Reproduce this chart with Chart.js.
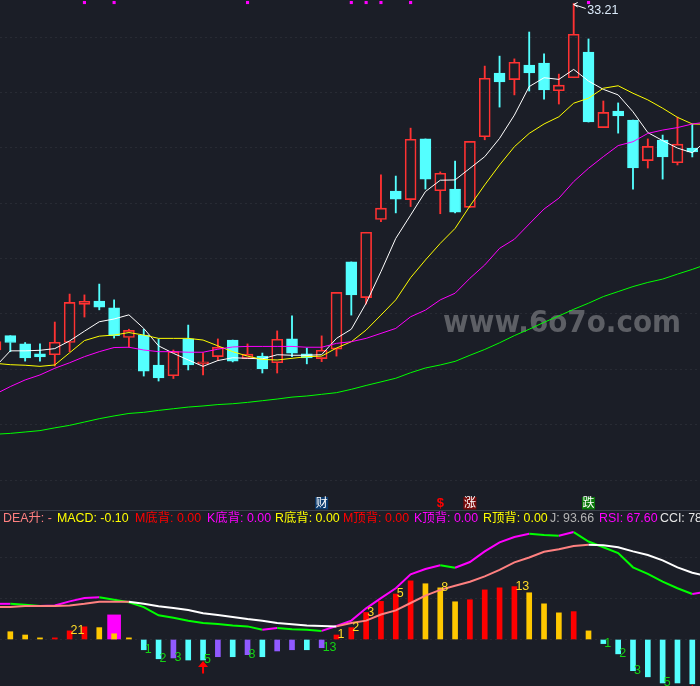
<!DOCTYPE html>
<html>
<head>
<meta charset="utf-8">
<title>K线 MACD</title>
<script src="https://cdn.jsdelivr.net/npm/chart.js@4"></script>
<style>
  html, body { margin: 0; padding: 0; background: #1b1e27; }
  #wrap { position: relative; width: 700px; height: 686px; overflow: hidden; background: #1b1e27; }
  canvas { position: absolute; left: 0; display: block; }
  #priceChart { top: 0; }
  #macdChart { top: 511px; }
  #line { position: absolute; left: 0; top: 510px; width: 700px; height: 1px; background: #3c404b; }
  #head span {
    position: absolute; top: 510px; white-space: nowrap; line-height: 16px;
    font: 12.4px/16px "Liberation Sans", "Noto Sans CJK SC", sans-serif;
  }
</style>
</head>
<body>
<div id="wrap">
  <canvas id="priceChart" width="700" height="510"></canvas>
  <canvas id="macdChart" width="700" height="175"></canvas>
  <div id="line"></div>
  <div id="head">
    <span style="left:3px;color:#ff8080">DEA升: -</span>
    <span style="left:57px;color:#ffff00">MACD: -0.10</span>
    <span style="left:135px;color:#ff0000">M底背: 0.00</span>
    <span style="left:207px;color:#ff00ff">K底背: 0.00</span>
    <span style="left:275px;color:#ffff00">R底背: 0.00</span>
    <span style="left:343px;color:#ff0000">M顶背: 0.00</span>
    <span style="left:414px;color:#ff00ff">K顶背: 0.00</span>
    <span style="left:483px;color:#ffff00">R顶背: 0.00</span>
    <span style="left:550px;color:#b4b4b4">J: 93.66</span>
    <span style="left:599px;color:#ff00ff">RSI: 67.60</span>
    <span style="left:660px;color:#e6e6e6">CCI: 78.43</span>
  </div>
</div>

<script>
// CANDLES
let opens = [20.70,21.22,20.92,20.56,20.53,20.97,22.35,22.47,22.22,21.15,21.24,20.16,19.77,21.10,20.20,20.46,21.06,20.39,20.48,20.24,21.10,20.56,20.39,20.73,23.88,22.59,25.41,26.44,26.13,28.32,26.45,26.51,25.85,28.40,30.70,30.46,30.99,31.06,30.06,30.53,31.46,28.73,29.33,29.00,27.54,28.28,27.46,27.99,28.10];
let closes = [21.00,20.97,20.41,20.45,20.98,22.42,22.46,22.25,21.22,21.41,19.94,19.69,20.64,20.16,20.27,20.80,20.30,20.55,20.02,21.09,20.59,20.41,20.69,22.78,22.69,24.95,25.82,26.15,28.31,26.87,27.08,25.68,28.23,30.51,30.38,31.09,30.70,30.09,30.26,32.10,28.93,29.28,29.15,27.27,28.05,27.67,28.13,27.85,28.40];
let highs = [21.00,21.22,20.97,20.92,21.71,22.72,22.69,23.08,22.51,21.45,21.45,21.10,20.70,21.60,20.60,21.10,21.06,20.92,20.59,21.39,21.93,20.77,21.21,22.78,23.88,24.95,27.02,26.98,28.71,28.32,27.13,27.52,28.23,30.95,31.31,31.21,32.18,31.39,30.66,33.21,31.93,29.69,29.62,29.00,28.32,28.46,29.11,28.86,28.60];
let lows = [20.70,20.64,20.30,20.30,20.12,20.64,21.89,22.15,21.13,20.80,19.76,19.58,19.67,19.98,19.80,20.32,20.27,20.39,19.87,19.87,20.46,20.20,20.28,20.48,21.96,22.36,25.33,25.65,25.88,26.51,25.62,25.65,25.85,28.29,29.47,29.91,30.05,29.76,29.58,30.53,28.93,28.73,28.53,26.51,27.27,26.87,27.38,27.67,27.90];

// MOVING AVERAGES
let ma5 = [20.10,20.67,20.67,20.69,20.75,21.03,21.38,21.72,21.82,21.97,21.48,20.85,20.58,20.34,20.11,20.32,20.42,20.40,20.38,20.53,20.51,20.51,20.53,21.12,21.45,22.39,23.53,24.73,25.57,26.42,26.83,26.84,27.26,27.68,28.34,29.18,30.21,30.53,30.47,30.83,30.41,30.11,29.91,29.30,28.55,28.26,27.99,27.82,28.28];
let ma10 = [20.22,20.17,20.15,20.11,20.16,20.60,21.04,21.20,21.24,21.33,21.24,21.12,21.12,21.12,21.06,20.85,20.64,20.48,20.36,20.34,20.40,20.46,20.48,20.77,21.00,21.42,21.96,22.51,23.31,23.95,24.55,25.09,25.90,26.66,27.38,28.04,28.52,28.86,29.12,29.61,29.79,30.15,30.24,29.97,29.73,29.43,29.10,28.86,28.85];
let ma20 = [19.11,19.38,19.62,19.80,20.04,20.24,20.46,20.64,20.79,20.80,20.70,20.64,20.64,20.62,20.62,20.73,20.81,20.83,20.83,20.83,20.83,20.80,20.80,20.94,21.00,21.12,21.30,21.48,21.90,22.14,22.51,22.75,23.29,23.77,24.37,24.70,25.25,25.79,26.18,26.78,27.26,27.68,28.08,28.22,28.52,28.64,28.73,28.86,28.93];
let ma60 = [17.66,17.69,17.74,17.79,17.89,17.98,18.10,18.22,18.32,18.41,18.45,18.52,18.58,18.64,18.68,18.73,18.76,18.81,18.87,18.93,19.00,19.04,19.10,19.16,19.28,19.42,19.55,19.68,19.88,20.05,20.16,20.29,20.51,20.72,20.96,21.22,21.45,21.70,21.93,22.17,22.39,22.63,22.81,22.99,23.14,23.26,23.44,23.61,23.80];

// MARKS ON THE PRICE PANEL
let priceTicks = [16,18,20,22,24,26,28,30,32];
let topMarks = [6,8,17,24,25,26,28,40];
let topMarkLevel = 33.245;
let highLabelIdx = 39;
let eventIdx = [22,30,32,40];
let eventText = ["财","$","涨","跌"];
let eventKind = ["blue","plain","red","green"];

// MACD PANEL
let macdBars = [0.020,0.019,0.011,0.004,0.004,0.021,0.031,0.029,0.014,0.004,-0.025,-0.047,-0.045,-0.050,-0.050,-0.042,-0.042,-0.037,-0.042,-0.028,-0.025,-0.025,-0.020,0.011,0.029,0.066,0.093,0.111,0.143,0.136,0.126,0.092,0.097,0.121,0.126,0.129,0.114,0.087,0.065,0.068,0.021,-0.010,-0.035,-0.076,-0.091,-0.106,-0.106,-0.108,-0.100];
let barKind = "oooorrrooo"
  .concat("ccpccpcpcppcp")
  .concat("rrrrrrooorrrrooorocccccccc")
  .split("");
let dif = [0.087,0.087,0.085,0.082,0.083,0.093,0.101,0.103,0.097,0.091,0.079,0.059,0.053,0.046,0.040,0.038,0.034,0.032,0.024,0.028,0.025,0.024,0.021,0.033,0.046,0.076,0.101,0.125,0.159,0.172,0.181,0.175,0.189,0.215,0.237,0.250,0.258,0.255,0.253,0.262,0.239,0.225,0.211,0.176,0.160,0.141,0.125,0.111,0.117];
let dea = [0.079,0.079,0.082,0.082,0.082,0.083,0.087,0.092,0.092,0.092,0.087,0.081,0.077,0.072,0.064,0.060,0.055,0.050,0.046,0.040,0.037,0.034,0.033,0.032,0.040,0.046,0.061,0.071,0.089,0.107,0.121,0.131,0.141,0.154,0.170,0.188,0.200,0.214,0.220,0.228,0.231,0.230,0.225,0.215,0.206,0.193,0.176,0.163,0.154];
let wideBarIdx = [8];
let wideBarValue = [0.060];
let macdTicks = [0,0.1,0.2];
let countIdx = [5,10,11,12,14,17,22,23,24,25,27,30,35,41,42,43,45];
let countText = ["21","1","2","3","5","8","13","1","2","3","5","8","13","1","2","3","5"];
let arrowIdx = [14,47];

const BG_FONT = '"Liberation Sans", "Noto Sans CJK SC", sans-serif';
const RED = "#ff3232";
const CYAN = "#54ffff";
const GRID = "#282b34";
const barColors = { o: "#ffc800", r: "#ff0000", c: "#54ffff", p: "#9059ff" };
const eventColors = { blue: "#0a3a6e", red: "#780a0a", green: "#0a780a" };

function pts(list) {
  return list.map((v, i) => ({ x: i, y: v }));
}

function isUp(i) {
  return closes[i] >= opens[i];
}

// wicks stop at the body so the hollow candles stay empty
function wickData(part) {
  return opens.map((o, i) => {
    let top = Math.max(o, closes[i]);
    let bot = Math.min(o, closes[i]);
    return { x: i, y: part === "up" ? [top, highs[i]] : [lows[i], bot] };
  });
}

function lineSet(list, color) {
  return { type: "line", data: pts(list), borderColor: color, borderWidth: 1, pointRadius: 0, tension: 0, order: 0 };
}

function wickSet(part) {
  return {
    data: wickData(part), grouped: false, barThickness: 1.2, order: 2,
    backgroundColor: opens.map((o, i) => isUp(i) ? RED : CYAN)
  };
}

// PRICE PANEL EXTRAS
const priceExtras = {
  id: "priceExtras",
  beforeDatasetsDraw(chart) {
    let ctx = chart.ctx;
    ctx.save();
    ctx.fillStyle = "#5d5f65";
    ctx.font = 'bold 31px "DejaVu Sans"';
    ctx.textBaseline = "alphabetic";
    ctx.fillText("www.6o7o.com", 443, 332, 238);
    ctx.restore();
  },
  afterDatasetsDraw(chart) {
    let ctx = chart.ctx;
    let xs = chart.scales.x;
    let ys = chart.scales.y;
    ctx.save();

    // highest price note
    let hx = xs.getPixelForValue(highLabelIdx);
    let hy = ys.getPixelForValue(highs[highLabelIdx]) + 1;
    ctx.strokeStyle = "#ffffff";
    ctx.lineWidth = 1;
    ctx.beginPath();
    ctx.moveTo(hx + 12, hy + 4);
    ctx.lineTo(hx, hy);
    ctx.lineTo(hx + 4, hy - 2);
    ctx.moveTo(hx, hy);
    ctx.lineTo(hx + 4, hy + 2.5);
    ctx.stroke();
    ctx.fillStyle = "#dcebfa";
    ctx.font = "12.5px " + BG_FONT;
    ctx.textBaseline = "middle";
    ctx.textAlign = "left";
    ctx.fillText(highs[highLabelIdx].toFixed(2), hx + 13.5, hy + 6);

    // event tags
    ctx.font = "12px " + BG_FONT;
    ctx.textAlign = "center";
    eventIdx.forEach((idx, n) => {
      let x = xs.getPixelForValue(idx);
      if (eventKind[n] === "plain") {
        ctx.fillStyle = "#ff0000";
        ctx.font = "bold 13px " + BG_FONT;
        ctx.fillText(eventText[n], x, 503);
        ctx.font = "12px " + BG_FONT;
        return;
      }
      ctx.fillStyle = eventColors[eventKind[n]];
      ctx.fillRect(x - 6.5, 497, 13, 12.5);
      ctx.fillStyle = "#ffffff";
      ctx.fillText(eventText[n], x, 503.5);
    });
    ctx.restore();
  }
};

new Chart(document.getElementById("priceChart"), {
  type: "bar",
  plugins: [priceExtras],
  data: {
    datasets: [
      lineSet(ma60, "#00ff00"),
      lineSet(ma20, "#ff00ff"),
      lineSet(ma10, "#ffff00"),
      lineSet(ma5, "#ffffff"),
      {
        type: "line", data: topMarks.map(i => ({ x: i, y: topMarkLevel })), showLine: false,
        pointStyle: "rect", pointRadius: 2.2, pointBackgroundColor: "#ff00ff", pointBorderWidth: 0, clip: false, order: 0
      },
      {
        data: opens.map((o, i) => ({ x: i, y: [o, closes[i]] })), grouped: false, barThickness: 11, order: 1,
        backgroundColor: opens.map((o, i) => isUp(i) ? "rgba(0,0,0,0)" : CYAN),
        borderColor: opens.map((o, i) => isUp(i) ? RED : CYAN),
        borderWidth: 1, borderSkipped: false
      },
      wickSet("up"),
      wickSet("down")
    ]
  },
  options: {
    responsive: false,
    animation: false,
    devicePixelRatio: 1,
    layout: { padding: 0, autoPadding: false },
    plugins: { legend: { display: false }, tooltip: { enabled: false } },
    scales: {
      x: { type: "linear", min: 0.304, max: 47.52, offset: false, display: false },
      y: {
        min: 14.924, max: 33.336,
        afterBuildTicks(scale) { scale.ticks = priceTicks.map(v => ({ value: v })); },
        afterFit(scale) { scale.width = 0; },
        ticks: { display: false },
        border: { display: false, dash: [2, 3] },
        grid: { color: GRID, lineWidth: 1, drawTicks: false, tickLength: 0 }
      }
    }
  }
});

// MACD PANEL EXTRAS
const macdExtras = {
  id: "macdExtras",
  afterDatasetsDraw(chart) {
    let ctx = chart.ctx;
    let xs = chart.scales.x;
    let ys = chart.scales.y;
    ctx.save();

    // bar counters
    ctx.font = "12.5px " + BG_FONT;
    ctx.textBaseline = "middle";
    ctx.textAlign = "left";
    countIdx.forEach((idx, n) => {
      let v = macdBars[idx];
      ctx.fillStyle = v > 0 ? "#ffdc28" : "#14d214";
      ctx.fillText(countText[n], xs.getPixelForValue(idx) + 1, ys.getPixelForValue(v));
    });

    // buy arrows under the bars
    ctx.fillStyle = "#ff0000";
    arrowIdx.forEach(idx => {
      let x = xs.getPixelForValue(idx);
      let y = ys.getPixelForValue(macdBars[idx]) + 1;
      ctx.beginPath();
      ctx.moveTo(x, y);
      ctx.lineTo(x + 5, y + 6);
      ctx.lineTo(x + 1, y + 6);
      ctx.lineTo(x + 1, y + 12.5);
      ctx.lineTo(x - 1, y + 12.5);
      ctx.lineTo(x - 1, y + 6);
      ctx.lineTo(x - 5, y + 6);
      ctx.closePath();
      ctx.fill();
    });
    ctx.restore();
  }
};

// line colour follows the slope of the segment
function slopeSet(list, upColor, downColor, order) {
  return {
    type: "line", data: pts(list), borderWidth: 2, pointRadius: 0, tension: 0, order: order,
    borderColor: upColor,
    segment: { borderColor: c => c.p1.parsed.y < c.p0.parsed.y ? downColor : upColor }
  };
}

new Chart(document.getElementById("macdChart"), {
  type: "bar",
  plugins: [macdExtras],
  data: {
    datasets: [
      slopeSet(dea, "#ff8080", "#ffffff", 0),
      slopeSet(dif, "#ff00ff", "#00ff00", 1),
      {
        data: macdBars.map((v, i) => ({ x: i, y: v })), grouped: false, barThickness: 5, order: 2,
        backgroundColor: barKind.map(k => barColors[k])
      },
      {
        data: wideBarIdx.map((idx, n) => ({ x: idx, y: wideBarValue[n] })), grouped: false, barThickness: 13, order: 3,
        backgroundColor: "#ff00ff"
      }
    ]
  },
  options: {
    responsive: false,
    animation: false,
    devicePixelRatio: 1,
    layout: { padding: 0, autoPadding: false },
    plugins: { legend: { display: false }, tooltip: { enabled: false } },
    scales: {
      x: { type: "linear", min: 0.304, max: 47.52, offset: false, display: false },
      y: {
        min: -0.1134, max: 0.3134,
        afterBuildTicks(scale) { scale.ticks = macdTicks.map(v => ({ value: v })); },
        afterFit(scale) { scale.width = 0; },
        ticks: { display: false },
        border: { display: false, dash: [2, 3] },
        grid: { color: GRID, lineWidth: 1, drawTicks: false, tickLength: 0 }
      }
    }
  }
});
</script>
</body>
</html>
